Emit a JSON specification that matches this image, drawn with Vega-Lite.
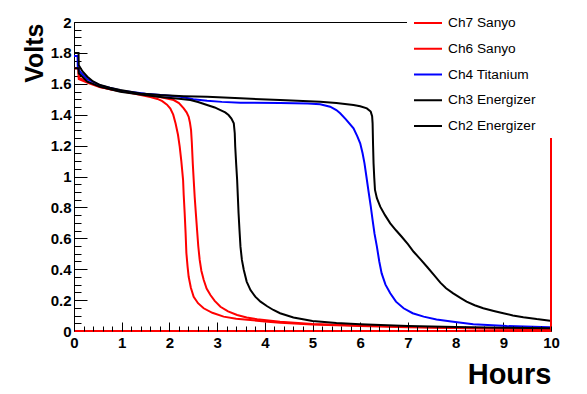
{
  "$schema": "https://vega.github.io/schema/vega-lite/v6.json",
  "width": 477,
  "height": 309,
  "autosize": {"type": "none"},
  "padding": {"left": 74, "top": 22, "right": 36, "bottom": 63},
  "background": "white",
  "config": {
    "view": {"stroke": null},
    "axis": {
      "grid": false,
      "labelFont": "Liberation Sans",
      "labelFontWeight": "bold",
      "labelFontSize": 15,
      "labelColor": "black",
      "tickColor": "black",
      "domainColor": "black",
      "labelFlush": false,
      "labelOverlap": false,
      "labelBound": false,
      "titleFont": "Liberation Sans",
      "titleFontWeight": "bold",
      "titleColor": "black"
    }
  },
  "datasets": {
    "curves": [
      {"s":"Ch7 Sanyo","h":0,"v":1.70},{"s":"Ch7 Sanyo","h":0.095,"v":1.70},{"s":"Ch7 Sanyo","h":0.1,"v":1.64},{"s":"Ch7 Sanyo","h":0.2,"v":1.625},{"s":"Ch7 Sanyo","h":0.3,"v":1.61},{"s":"Ch7 Sanyo","h":0.55,"v":1.58},{"s":"Ch7 Sanyo","h":0.8,"v":1.562},{"s":"Ch7 Sanyo","h":1.0,"v":1.552},{"s":"Ch7 Sanyo","h":1.2,"v":1.54},{"s":"Ch7 Sanyo","h":1.4,"v":1.528},{"s":"Ch7 Sanyo","h":1.6,"v":1.515},{"s":"Ch7 Sanyo","h":1.75,"v":1.502},{"s":"Ch7 Sanyo","h":1.85,"v":1.488},{"s":"Ch7 Sanyo","h":1.95,"v":1.465},{"s":"Ch7 Sanyo","h":2.02,"v":1.44},{"s":"Ch7 Sanyo","h":2.08,"v":1.40},{"s":"Ch7 Sanyo","h":2.13,"v":1.343},{"s":"Ch7 Sanyo","h":2.18,"v":1.27},{"s":"Ch7 Sanyo","h":2.216,"v":1.193},{"s":"Ch7 Sanyo","h":2.25,"v":1.10},{"s":"Ch7 Sanyo","h":2.287,"v":0.977},{"s":"Ch7 Sanyo","h":2.30,"v":0.88},{"s":"Ch7 Sanyo","h":2.32,"v":0.764},{"s":"Ch7 Sanyo","h":2.34,"v":0.63},{"s":"Ch7 Sanyo","h":2.356,"v":0.505},{"s":"Ch7 Sanyo","h":2.38,"v":0.42},{"s":"Ch7 Sanyo","h":2.404,"v":0.351},{"s":"Ch7 Sanyo","h":2.45,"v":0.28},{"s":"Ch7 Sanyo","h":2.509,"v":0.222},{"s":"Ch7 Sanyo","h":2.6,"v":0.18},{"s":"Ch7 Sanyo","h":2.718,"v":0.147},{"s":"Ch7 Sanyo","h":2.9,"v":0.118},{"s":"Ch7 Sanyo","h":3.137,"v":0.093},{"s":"Ch7 Sanyo","h":3.4,"v":0.08},{"s":"Ch7 Sanyo","h":3.696,"v":0.071},{"s":"Ch7 Sanyo","h":4.0,"v":0.062},{"s":"Ch7 Sanyo","h":4.32,"v":0.054},{"s":"Ch7 Sanyo","h":5,"v":0.042},{"s":"Ch7 Sanyo","h":6,"v":0.032},{"s":"Ch7 Sanyo","h":7,"v":0.025},{"s":"Ch7 Sanyo","h":8,"v":0.019},{"s":"Ch7 Sanyo","h":9,"v":0.015},{"s":"Ch7 Sanyo","h":10,"v":0.012},

      {"s":"Ch6 Sanyo","h":0,"v":1.70},{"s":"Ch6 Sanyo","h":0.095,"v":1.70},{"s":"Ch6 Sanyo","h":0.1,"v":1.63},{"s":"Ch6 Sanyo","h":0.3,"v":1.605},{"s":"Ch6 Sanyo","h":0.55,"v":1.578},{"s":"Ch6 Sanyo","h":1.0,"v":1.552},{"s":"Ch6 Sanyo","h":1.5,"v":1.53},{"s":"Ch6 Sanyo","h":1.8,"v":1.515},{"s":"Ch6 Sanyo","h":2.09,"v":1.495},{"s":"Ch6 Sanyo","h":2.2,"v":1.475},{"s":"Ch6 Sanyo","h":2.30,"v":1.441},{"s":"Ch6 Sanyo","h":2.36,"v":1.415},{"s":"Ch6 Sanyo","h":2.404,"v":1.387},{"s":"Ch6 Sanyo","h":2.43,"v":1.35},{"s":"Ch6 Sanyo","h":2.454,"v":1.30},{"s":"Ch6 Sanyo","h":2.47,"v":1.22},{"s":"Ch6 Sanyo","h":2.49,"v":1.085},{"s":"Ch6 Sanyo","h":2.51,"v":0.975},{"s":"Ch6 Sanyo","h":2.53,"v":0.869},{"s":"Ch6 Sanyo","h":2.555,"v":0.76},{"s":"Ch6 Sanyo","h":2.58,"v":0.654},{"s":"Ch6 Sanyo","h":2.605,"v":0.55},{"s":"Ch6 Sanyo","h":2.635,"v":0.46},{"s":"Ch6 Sanyo","h":2.67,"v":0.39},{"s":"Ch6 Sanyo","h":2.72,"v":0.33},{"s":"Ch6 Sanyo","h":2.78,"v":0.275},{"s":"Ch6 Sanyo","h":2.86,"v":0.233},{"s":"Ch6 Sanyo","h":2.95,"v":0.195},{"s":"Ch6 Sanyo","h":3.07,"v":0.157},{"s":"Ch6 Sanyo","h":3.23,"v":0.127},{"s":"Ch6 Sanyo","h":3.42,"v":0.104},{"s":"Ch6 Sanyo","h":3.62,"v":0.088},{"s":"Ch6 Sanyo","h":3.84,"v":0.076},{"s":"Ch6 Sanyo","h":4.32,"v":0.06},{"s":"Ch6 Sanyo","h":5,"v":0.046},{"s":"Ch6 Sanyo","h":6,"v":0.035},{"s":"Ch6 Sanyo","h":7,"v":0.027},{"s":"Ch6 Sanyo","h":8,"v":0.02},{"s":"Ch6 Sanyo","h":9,"v":0.016},{"s":"Ch6 Sanyo","h":10,"v":0.013},

      {"s":"Ch4 Titanium","h":0,"v":1.78},{"s":"Ch4 Titanium","h":0.075,"v":1.78},{"s":"Ch4 Titanium","h":0.08,"v":1.70},{"s":"Ch4 Titanium","h":0.15,"v":1.67},{"s":"Ch4 Titanium","h":0.28,"v":1.63},{"s":"Ch4 Titanium","h":0.55,"v":1.59},{"s":"Ch4 Titanium","h":1.0,"v":1.555},{"s":"Ch4 Titanium","h":1.5,"v":1.535},{"s":"Ch4 Titanium","h":2.0,"v":1.522},{"s":"Ch4 Titanium","h":2.23,"v":1.516},{"s":"Ch4 Titanium","h":2.5,"v":1.50},{"s":"Ch4 Titanium","h":2.79,"v":1.49},{"s":"Ch4 Titanium","h":3.1,"v":1.483},{"s":"Ch4 Titanium","h":3.49,"v":1.478},{"s":"Ch4 Titanium","h":4.32,"v":1.475},{"s":"Ch4 Titanium","h":4.9,"v":1.472},{"s":"Ch4 Titanium","h":5.16,"v":1.468},{"s":"Ch4 Titanium","h":5.37,"v":1.452},{"s":"Ch4 Titanium","h":5.5,"v":1.43},{"s":"Ch4 Titanium","h":5.58,"v":1.409},{"s":"Ch4 Titanium","h":5.7,"v":1.37},{"s":"Ch4 Titanium","h":5.86,"v":1.312},{"s":"Ch4 Titanium","h":5.94,"v":1.26},{"s":"Ch4 Titanium","h":6.0,"v":1.215},{"s":"Ch4 Titanium","h":6.05,"v":1.15},{"s":"Ch4 Titanium","h":6.09,"v":1.085},{"s":"Ch4 Titanium","h":6.13,"v":1.0},{"s":"Ch4 Titanium","h":6.17,"v":0.913},{"s":"Ch4 Titanium","h":6.22,"v":0.81},{"s":"Ch4 Titanium","h":6.26,"v":0.718},{"s":"Ch4 Titanium","h":6.3,"v":0.63},{"s":"Ch4 Titanium","h":6.35,"v":0.546},{"s":"Ch4 Titanium","h":6.4,"v":0.45},{"s":"Ch4 Titanium","h":6.45,"v":0.373},{"s":"Ch4 Titanium","h":6.53,"v":0.3},{"s":"Ch4 Titanium","h":6.63,"v":0.244},{"s":"Ch4 Titanium","h":6.75,"v":0.19},{"s":"Ch4 Titanium","h":6.91,"v":0.147},{"s":"Ch4 Titanium","h":7.1,"v":0.115},{"s":"Ch4 Titanium","h":7.33,"v":0.093},{"s":"Ch4 Titanium","h":7.6,"v":0.075},{"s":"Ch4 Titanium","h":7.95,"v":0.06},{"s":"Ch4 Titanium","h":8.37,"v":0.043},{"s":"Ch4 Titanium","h":9.07,"v":0.032},{"s":"Ch4 Titanium","h":9.98,"v":0.024},

      {"s":"Ch3 Energizer","h":0,"v":1.70},{"s":"Ch3 Energizer","h":0.095,"v":1.70},{"s":"Ch3 Energizer","h":0.1,"v":1.668},{"s":"Ch3 Energizer","h":0.28,"v":1.614},{"s":"Ch3 Energizer","h":0.55,"v":1.58},{"s":"Ch3 Energizer","h":0.97,"v":1.549},{"s":"Ch3 Energizer","h":1.39,"v":1.53},{"s":"Ch3 Energizer","h":1.81,"v":1.515},{"s":"Ch3 Energizer","h":2.2,"v":1.503},{"s":"Ch3 Energizer","h":2.44,"v":1.495},{"s":"Ch3 Energizer","h":2.6,"v":1.482},{"s":"Ch3 Energizer","h":2.79,"v":1.463},{"s":"Ch3 Energizer","h":2.95,"v":1.447},{"s":"Ch3 Energizer","h":3.07,"v":1.43},{"s":"Ch3 Energizer","h":3.17,"v":1.415},{"s":"Ch3 Energizer","h":3.24,"v":1.398},{"s":"Ch3 Energizer","h":3.30,"v":1.375},{"s":"Ch3 Energizer","h":3.35,"v":1.344},{"s":"Ch3 Energizer","h":3.37,"v":1.28},{"s":"Ch3 Energizer","h":3.38,"v":1.193},{"s":"Ch3 Energizer","h":3.40,"v":1.08},{"s":"Ch3 Energizer","h":3.42,"v":0.977},{"s":"Ch3 Energizer","h":3.435,"v":0.87},{"s":"Ch3 Energizer","h":3.45,"v":0.762},{"s":"Ch3 Energizer","h":3.47,"v":0.65},{"s":"Ch3 Energizer","h":3.49,"v":0.546},{"s":"Ch3 Energizer","h":3.52,"v":0.46},{"s":"Ch3 Energizer","h":3.56,"v":0.395},{"s":"Ch3 Energizer","h":3.62,"v":0.32},{"s":"Ch3 Energizer","h":3.70,"v":0.265},{"s":"Ch3 Energizer","h":3.8,"v":0.222},{"s":"Ch3 Energizer","h":3.91,"v":0.19},{"s":"Ch3 Energizer","h":4.05,"v":0.16},{"s":"Ch3 Energizer","h":4.18,"v":0.136},{"s":"Ch3 Energizer","h":4.32,"v":0.115},{"s":"Ch3 Energizer","h":4.6,"v":0.088},{"s":"Ch3 Energizer","h":5,"v":0.065},{"s":"Ch3 Energizer","h":5.5,"v":0.052},{"s":"Ch3 Energizer","h":6,"v":0.044},{"s":"Ch3 Energizer","h":7,"v":0.033},{"s":"Ch3 Energizer","h":8,"v":0.026},{"s":"Ch3 Energizer","h":9,"v":0.021},{"s":"Ch3 Energizer","h":10,"v":0.017},

      {"s":"Ch2 Energizer","h":0,"v":1.80},{"s":"Ch2 Energizer","h":0.095,"v":1.80},{"s":"Ch2 Energizer","h":0.1,"v":1.72},{"s":"Ch2 Energizer","h":0.18,"v":1.68},{"s":"Ch2 Energizer","h":0.28,"v":1.646},{"s":"Ch2 Energizer","h":0.4,"v":1.615},{"s":"Ch2 Energizer","h":0.55,"v":1.592},{"s":"Ch2 Energizer","h":0.75,"v":1.574},{"s":"Ch2 Energizer","h":0.97,"v":1.56},{"s":"Ch2 Energizer","h":1.39,"v":1.538},{"s":"Ch2 Energizer","h":1.81,"v":1.527},{"s":"Ch2 Energizer","h":2.3,"v":1.52},{"s":"Ch2 Energizer","h":2.79,"v":1.516},{"s":"Ch2 Energizer","h":3.49,"v":1.506},{"s":"Ch2 Energizer","h":4.32,"v":1.495},{"s":"Ch2 Energizer","h":5.16,"v":1.484},{"s":"Ch2 Energizer","h":5.5,"v":1.475},{"s":"Ch2 Energizer","h":5.86,"v":1.463},{"s":"Ch2 Energizer","h":6.0,"v":1.455},{"s":"Ch2 Energizer","h":6.14,"v":1.441},{"s":"Ch2 Energizer","h":6.22,"v":1.42},{"s":"Ch2 Energizer","h":6.25,"v":1.39},{"s":"Ch2 Energizer","h":6.26,"v":1.344},{"s":"Ch2 Energizer","h":6.27,"v":1.2},{"s":"Ch2 Energizer","h":6.28,"v":1.085},{"s":"Ch2 Energizer","h":6.295,"v":0.99},{"s":"Ch2 Energizer","h":6.31,"v":0.913},{"s":"Ch2 Energizer","h":6.35,"v":0.86},{"s":"Ch2 Energizer","h":6.42,"v":0.805},{"s":"Ch2 Energizer","h":6.52,"v":0.75},{"s":"Ch2 Energizer","h":6.63,"v":0.697},{"s":"Ch2 Energizer","h":6.75,"v":0.652},{"s":"Ch2 Energizer","h":6.87,"v":0.61},{"s":"Ch2 Energizer","h":7.0,"v":0.562},{"s":"Ch2 Energizer","h":7.12,"v":0.513},{"s":"Ch2 Energizer","h":7.26,"v":0.465},{"s":"Ch2 Energizer","h":7.40,"v":0.416},{"s":"Ch2 Energizer","h":7.54,"v":0.365},{"s":"Ch2 Energizer","h":7.68,"v":0.313},{"s":"Ch2 Energizer","h":7.8,"v":0.277},{"s":"Ch2 Energizer","h":7.95,"v":0.244},{"s":"Ch2 Energizer","h":8.1,"v":0.214},{"s":"Ch2 Energizer","h":8.23,"v":0.19},{"s":"Ch2 Energizer","h":8.4,"v":0.167},{"s":"Ch2 Energizer","h":8.58,"v":0.147},{"s":"Ch2 Energizer","h":8.8,"v":0.13},{"s":"Ch2 Energizer","h":9.0,"v":0.115},{"s":"Ch2 Energizer","h":9.2,"v":0.101},{"s":"Ch2 Energizer","h":9.42,"v":0.089},{"s":"Ch2 Energizer","h":9.7,"v":0.077},{"s":"Ch2 Energizer","h":9.98,"v":0.067}
    ],
    "reset": [
      {"i":1,"h":0,"v":0},{"i":2,"h":10,"v":0},{"i":3,"h":10,"v":1.25}
    ]
  },
  "layer": [
    {
      "data": {"name": "curves"},
      "mark": {"type": "line", "strokeWidth": 2},
      "encoding": {
        "x": {"field": "h", "type": "quantitative", "scale": {"domain": [0, 10], "nice": false, "zero": false},
          "axis": {"orient": "bottom", "values": [0,1,2,3,4,5,6,7,8,9,10], "format": "d", "tickSize": -9, "labelPadding": 13, "domain": true,
            "title": "Hours", "titleFontSize": 29, "titleAnchor": null, "titleAlign": "right", "titleBaseline": "alphabetic", "titleX": 477, "titleY": 52}},
        "y": {"field": "v", "type": "quantitative", "scale": {"domain": [0, 2], "nice": false, "zero": false},
          "axis": {"orient": "left", "values": [0,0.2,0.4,0.6,0.8,1,1.2,1.4,1.6,1.8,2], "format": "~g", "tickSize": -13, "labelPadding": 16, "domain": true,
            "title": "Volts", "titleFontSize": 25, "titleLimit": 500, "titleAnchor": null, "titleAngle": -90, "titleAlign": "right", "titleBaseline": "alphabetic", "titleX": -32, "titleY": 1}},
        "color": {"field": "s", "type": "nominal",
          "scale": {"domain": ["Ch7 Sanyo","Ch6 Sanyo","Ch4 Titanium","Ch3 Energizer","Ch2 Energizer"], "range": ["#ff0000","#ff0000","#0000ff","#000000","#000000"]},
          "legend": {"orient": "none", "legendX": 333, "legendY": -20, "title": null,
            "symbolType": "stroke", "symbolSize": 784, "symbolStrokeWidth": 2,
            "labelFont": "Liberation Sans", "labelFontSize": 13.7, "labelColor": "black", "labelOffset": 5, "fillColor": "white", "padding": 6, "rowPadding": 3.75}}
      }
    },
    {
      "data": {"name": "reset"},
      "mark": {"type": "line", "strokeWidth": 2, "color": "#ff0000"},
      "encoding": {
        "x": {"field": "h", "type": "quantitative",
          "axis": {"orient": "top", "ticks": false, "labels": false, "domain": true, "domainDash": [333, 1000], "title": null}},
        "y": {"field": "v", "type": "quantitative",
          "axis": {"orient": "left", "values": [0,0.05,0.1,0.15,0.2,0.25,0.3,0.35,0.4,0.45,0.5,0.55,0.6,0.65,0.7,0.75,0.8,0.85,0.9,0.95,1,1.05,1.1,1.15,1.2,1.25,1.3,1.35,1.4,1.45,1.5,1.55,1.6,1.65,1.7,1.75,1.8,1.85,1.9,1.95,2], "tickSize": -7, "labels": false, "domain": false, "title": null}},
        "order": {"field": "i", "type": "quantitative"}
      }
    },
    {
      "data": {"name": "reset"},
      "mark": {"type": "line", "strokeWidth": 2, "color": "#ff0000", "strokeOpacity": 0},
      "encoding": {
        "x": {"field": "h", "type": "quantitative",
          "axis": {"orient": "bottom", "zindex": 1, "values": [0,0.2,0.4,0.6,0.8,1,1.2,1.4,1.6,1.8,2,2.2,2.4,2.6,2.8,3,3.2,3.4,3.6,3.8,4,4.2,4.4,4.6,4.8,5,5.2,5.4,5.6,5.8,6,6.2,6.4,6.6,6.8,7,7.2,7.4,7.6,7.8,8,8.2,8.4,8.6,8.8,9,9.2,9.4,9.6,9.8,10], "tickSize": -5, "labels": false, "domain": false, "title": null}},
        "y": {"field": "v", "type": "quantitative", "axis": null},
        "order": {"field": "i", "type": "quantitative"}
      }
    }
  ],
  "resolve": {"axis": {"x": "independent", "y": "independent"}}
}
